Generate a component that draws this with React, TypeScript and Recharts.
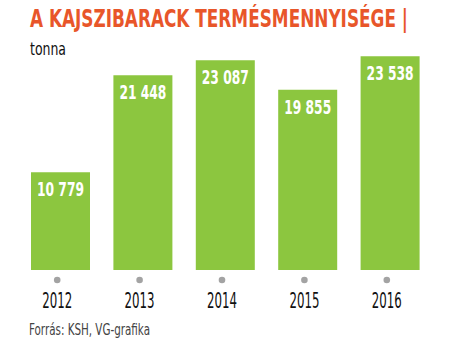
import React from "react";
import { BarChart, Bar, XAxis, YAxis, LabelList } from "recharts";

const years = ["2012", "2013", "2014", "2015", "2016"];
const values = [10779, 21448, 23087, 19855, 23538];
const title = "A KAJSZIBARACK TERMÉSMENNYISÉGE |";
const unit = "tonna";
const source = "Forrás: KSH, VG-grafika";

const data = years.map((y, i) => ({ year: y, value: values[i] }));

const FONT = "'Liberation Sans Narrow', 'DejaVu Sans Condensed', 'Roboto Condensed', 'Liberation Sans', sans-serif";
const GREEN = "#8cc63f";
const ORANGE = "#e8562a";

const fmt = (v: number) => {
  const s = String(Math.round(v));
  return s.replace(/\B(?=(\d{3})+(?!\d))/g, " ");
};

const YearTick = (props: any) => {
  const { x, y, payload } = props;
  return (
    <g>
      <circle cx={x - 3} cy={y + 10} r={3.3} fill="#a3a3a3" />
      <text
        x={x - 3}
        y={y + 38}
        textAnchor="middle"
        fontFamily={FONT}
        fontSize={20.5}
        fill="#111"
        textLength={30}
        lengthAdjust="spacingAndGlyphs"
      >
        {payload.value}
      </text>
    </g>
  );
};

const ValueLabel = (props: any) => {
  const { x, y, width, value } = props;
  return (
    <text
      x={x + width / 2}
      y={y + 24}
      textAnchor="middle"
      fontFamily={FONT}
      fontWeight="bold"
      fontSize={19}
      fill="#ffffff"
      textLength={47}
      lengthAdjust="spacingAndGlyphs"
    >
      {fmt(value)}
    </text>
  );
};

export default function App() {
  return (
    <div style={{ position: "absolute", left: 0, top: 0, width: 466, height: 351, background: "#fff" }}>
      <svg width={466} height={351} style={{ position: "absolute", left: 0, top: 0 }}>
        <g transform="translate(30,27) scale(1,1.17)">
          <text
            x={0}
            y={0}
            fontFamily={FONT}
            fontWeight="bold"
            fontSize={20.5}
            fill={ORANGE}
            textLength={378}
            lengthAdjust="spacingAndGlyphs"
          >
            {title}
          </text>
        </g>
        <text
          x={30}
          y={55}
          fontFamily={FONT}
          fontSize={17}
          fill="#111"
          textLength={36}
          lengthAdjust="spacingAndGlyphs"
        >
          {unit}
        </text>
        <text
          x={29}
          y={335}
          fontFamily={FONT}
          fontSize={16}
          fill="#444"
          textLength={121}
          lengthAdjust="spacingAndGlyphs"
        >
          {source}
        </text>
      </svg>
      <div style={{ position: "absolute", left: 0, top: 0 }}>
        <BarChart
          width={466}
          height={351}
          data={data}
          margin={{ top: 43, right: 35, bottom: 0, left: 19 }}
        >
          <YAxis hide domain={[0, 25000]} type="number" />
          <XAxis
            dataKey="year"
            axisLine={false}
            tickLine={false}
            tickSize={0}
            tickMargin={0}
            height={81}
            interval={0}
            tick={<YearTick />}
          />
          <Bar dataKey="value" fill={GREEN} barSize={59} isAnimationActive={false}>
            <LabelList dataKey="value" content={<ValueLabel />} />
          </Bar>
        </BarChart>
      </div>
    </div>
  );
}
